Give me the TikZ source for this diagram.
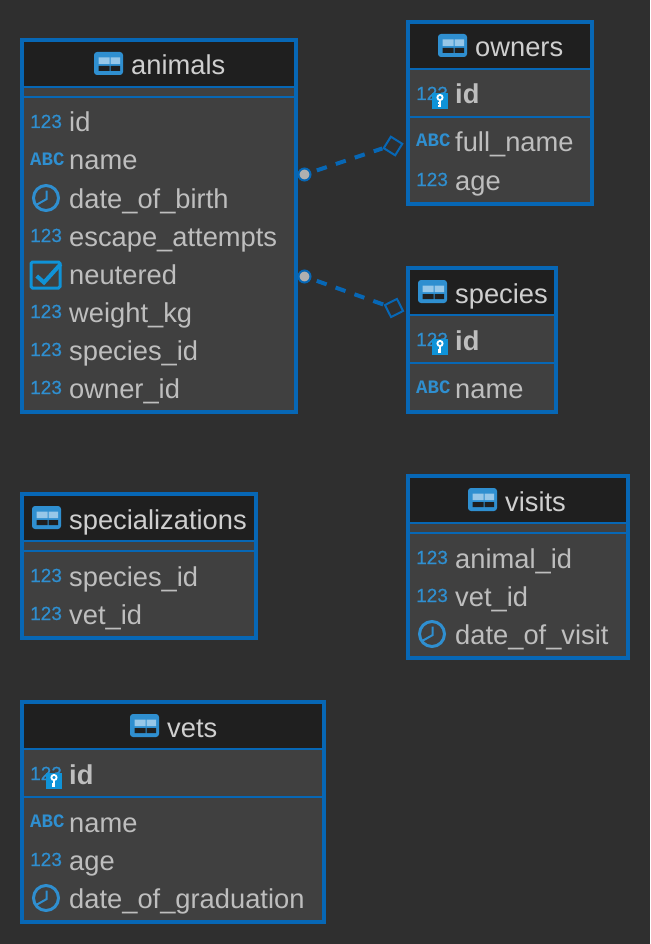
\documentclass[tikz,border=0pt]{standalone}
\usepackage{fontspec}
\setmainfont{Liberation Sans}
\newfontfamily\abcfont{Liberation Mono}
\newfontfamily\numfont[FakeBold=0.5]{Liberation Sans}
\definecolor{bgc}{HTML}{2F2F2F}
\definecolor{cellc}{HTML}{404040}
\definecolor{headc}{HTML}{1F1F1F}
\definecolor{edgec}{HTML}{0767B5}
\definecolor{iconc}{HTML}{2F8FD0}
\definecolor{keyc}{HTML}{0F93D8}
\definecolor{textc}{HTML}{BEBEBE}
\definecolor{titlec}{HTML}{CFCFCF}
\definecolor{dotc}{HTML}{B0B0B0}
\tikzset{
  x=1pt,y=-1pt,
  tablebox/.style={draw=edgec,line width=4pt,fill=cellc,inner sep=0pt,outer sep=0pt},
  headline/.style={draw=edgec,line width=2pt},
  rowtext/.style={anchor=base west,inner sep=0pt,text=textc,font=\fontsize{27.3}{27}\selectfont},
  keytext/.style={rowtext,font=\fontsize{27.3}{27}\selectfont\bfseries},
  titletext/.style={rowtext,text=titlec},
  numtext/.style={anchor=base west,inner sep=0pt,text=iconc,font=\fontsize{19}{19}\selectfont\numfont},
  abctext/.style={anchor=base west,inner sep=0pt,text=iconc,font=\fontsize{19}{19}\selectfont\abcfont\bfseries},
  relline/.style={draw=edgec,line width=4pt,dash pattern=on 10.5pt off 9.5pt,dash phase=14pt},
  enddot/.style={circle,draw=edgec,fill=dotc,line width=2pt,minimum size=12pt,inner sep=0pt},
  enddiamond/.style={rectangle,draw=edgec,fill=bgc,line width=2pt,minimum size=13.5pt,inner sep=0pt},
  pics/tableicon/.style={code={
    \fill[iconc,rounded corners=3pt] (0,0) rectangle (29,23);
    \fill[iconc!50!white] (4.5,5.5) rectangle (15.5,12) (16.5,5.5) rectangle (26,12);
    \fill[headc] (4.5,14) rectangle (15.5,19) (16.5,14) rectangle (26,19);
  }},
  pics/clockicon/.style={code={
    \draw[iconc,line width=3pt] (0,0) circle[radius=12.5];
    \draw[iconc,line width=2pt] (0.7,-7.5) -- (0.7,1) -- (-9,6.5);
  }},
  pics/checkicon/.style={code={
    \draw[keyc,line width=3pt,rounded corners=1.5pt] (1,-21) rectangle (30,5);
    \draw[keyc,line width=4pt] (6.7,-7) -- (14,-0.5) -- (30.7,-19);
  }},
  pics/keybadge/.style={code={
    \fill[keyc] (0,0) rectangle (16,16);
    \draw[white,line width=1.8pt] (8,4.5) circle[radius=2.6];
    \draw[white,line width=2pt] (8,7) -- (8,14) (8,10.5) -- (5.5,10.5) (8,13) -- (5.5,13);
  }},
}
% \tbl{name}{x0}{y0}{x1}{y1}{head line}
\newcommand\tbl[6]{%
  \node[tablebox,minimum width={#4-#2-4},minimum height={#5-#3-4},anchor=north west] (#1) at ({#2+2},{#3+2}) {};
  \fill[headc] ({#2+4},{#3+4}) rectangle ({#4-4},#6);
  \draw[headline] ({#2+3},{#6+1}) -- ({#4-3},{#6+1});
}
\newcommand\sep[3]{\draw[headline] ({#1+3},{#3+1}) -- ({#2-3},{#3+1});}
% \ttl{name}{icon x}{icon y}{text x}{baseline}{text}
\newcommand\ttl[6]{%
  \pic at (#2,#3) {tableicon};
  \node[titletext] (#1) at (#4,{#5+2}) {#6};
}
% rows: {name}{icon x}{text x}{baseline}{text}
\newcommand\numrow[5]{%
  \node[numtext] (#1i) at (#2,{#4-3}) {123};
  \node[rowtext] (#1) at (#3,{#4+1}) {#5};
}
\newcommand\abcrow[5]{%
  \node[abctext] (#1i) at (#2,{#4-4}) {ABC};
  \node[rowtext] (#1) at (#3,{#4+1}) {#5};
}
\newcommand\clockrow[5]{%
  \pic at ({#2+16},{#4-9}) {clockicon};
  \node[rowtext] (#1) at (#3,{#4+1}) {#5};
}
\newcommand\checkrow[5]{%
  \pic at (#2,#4) {checkicon};
  \node[rowtext] (#1) at (#3,{#4+1}) {#5};
}
\newcommand\keyrow[5]{%
  \node[numtext] (#1i) at (#2,{#4-3}) {123};
  \pic at ({#2+16},{#4-10}) {keybadge};
  \node[keytext] (#1) at (#3,{#4+1}) {#5};
}
\begin{document}
\begin{tikzpicture}
\useasboundingbox (0,0) rectangle (650,944);
\fill[bgc] (0,0) rectangle (650,944);

% animals
\tbl{animals}{20}{38}{298}{414}{86}
\sep{20}{298}{96}
\ttl{animalsT}{94}{52}{131}{73}{animals}
\numrow{aid}{30}{69}{131}{id}
\abcrow{aname}{30}{69}{169}{name}
\clockrow{adob}{30}{69}{207}{date\_of\_birth}
\numrow{aesc}{30}{69}{245}{escape\_attempts}
\checkrow{aneu}{30}{69}{283}{neutered}
\numrow{aweight}{30}{69}{321}{weight\_kg}
\numrow{aspec}{30}{69}{359}{species\_id}
\numrow{aown}{30}{69}{397}{owner\_id}

% owners
\tbl{owners}{406}{20}{594}{206}{68}
\sep{406}{594}{116}
\ttl{ownersT}{438}{34}{475}{55}{owners}
\keyrow{oid}{416}{455}{103}{id}
\abcrow{ofull}{416}{455}{151}{full\_name}
\numrow{oage}{416}{455}{189}{age}

% species
\tbl{species}{406}{266}{558}{414}{314}
\sep{406}{558}{362}
\ttl{speciesT}{418}{280}{455}{301}{species}
\keyrow{sid}{416}{455}{349}{id}
\abcrow{sname}{416}{455}{397}{name}

% specializations
\tbl{specs}{20}{492}{258}{640}{540}
\sep{20}{258}{550}
\ttl{specsT}{32}{506}{69}{527}{specializations}
\numrow{pspec}{30}{69}{585}{species\_id}
\numrow{pvet}{30}{69}{623}{vet\_id}

% visits
\tbl{visits}{406}{474}{630}{660}{522}
\sep{406}{630}{532}
\ttl{visitsT}{468}{488}{505}{509}{visits}
\numrow{vanimal}{416}{455}{567}{animal\_id}
\numrow{vvet}{416}{455}{605}{vet\_id}
\clockrow{vdate}{416}{455}{643}{date\_of\_visit}

% vets
\tbl{vets}{20}{700}{326}{924}{748}
\sep{20}{326}{796}
\ttl{vetsT}{130}{714}{167}{735}{vets}
\keyrow{tid}{30}{69}{783}{id}
\abcrow{tname}{30}{69}{831}{name}
\numrow{tage}{30}{69}{869}{age}
\clockrow{tdate}{30}{69}{907}{date\_of\_graduation}

% relations
\node[enddot] (dotA) at (304.5,174.5) {};
\node[enddiamond,rotate=-32] (diaA) at (393,146) {};
\node[enddot] (dotB) at (304.5,276.5) {};
\node[enddiamond,rotate=27] (diaB) at (394,308) {};
\draw[relline] (dotA) -- (diaA.south west);
\draw[relline] (dotB) -- (diaB.north west);
\end{tikzpicture}
\end{document}
